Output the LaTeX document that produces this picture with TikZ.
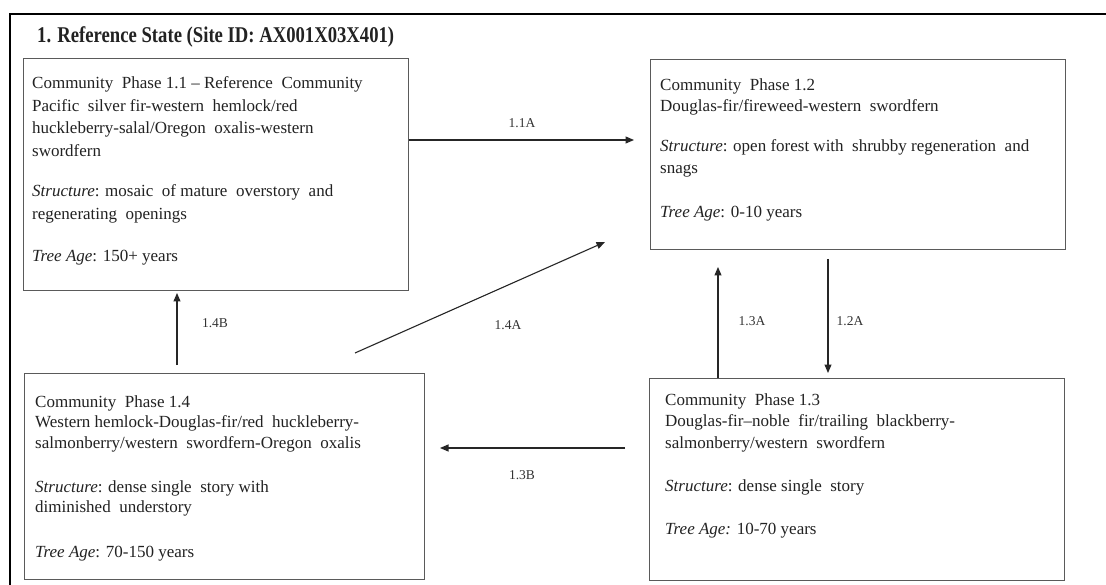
\documentclass[tikz,border=0pt]{standalone}
\usepackage{fontspec}
\setmainfont{Liberation Serif}
\usetikzlibrary{arrows.meta}
\definecolor{boxc}{HTML}{5A5A5A}
\definecolor{txt}{HTML}{222222}
\definecolor{lab}{HTML}{333333}
\tikzset{
  phasebox/.style={draw=boxc, line width=1.3pt, rectangle, anchor=north west, inner sep=0pt},
  body/.style={font=\fontsize{17}{21.5}\selectfont, align=left, inner sep=0pt, anchor=north west, text=txt},
  arr/.style={draw=black!85, line width=1.1pt, -{Triangle[length=8.5pt,width=7pt]}},
  lbl/.style={font=\fontsize{13.5}{15}\selectfont, text=lab, inner sep=0pt}
}
\begin{document}
\begin{tikzpicture}[x=1pt,y=-1pt]
\useasboundingbox (0,0) rectangle (1106,585);
\fill[white] (0,0) rectangle (1106,585);
% outer frame
\draw[line width=2.6pt, black] (1110,14) -- (10,14) -- (10,590);
% title
\node[anchor=base west, inner sep=0pt, font=\fontsize{22.5}{26}\selectfont\bfseries, text=txt] (title) at (37,43) {\scalebox{0.83}[1]{1. Reference State (Site ID: AX001X03X401)}};
% boxes
\node[phasebox, minimum width=385pt, minimum height=232pt] (p11) at (23,58) {};
\node[phasebox, minimum width=415pt, minimum height=190pt] (p12) at (650,59) {};
\node[phasebox, minimum width=400pt, minimum height=206pt] (p14) at (24,373) {};
\node[phasebox, minimum width=415pt, minimum height=202pt] (p13) at (649,378) {};
% texts
\node[body, font=\fontsize{17}{22.5}\selectfont] (t11) at (32,76.5) {Community\ \ Phase 1.1 – Reference\ \ Community\\
Pacific\ \ silver fir-western\ \ hemlock/red\\
huckleberry-salal/Oregon\ \ oxalis-western\\
swordfern\\[18pt]
\textit{Structure}: mosaic\ \ of mature\ \ overstory\ \ and\\
regenerating\ \ openings\\[20pt]
\textit{Tree Age}: 150+ years};
\node[body] (t12) at (660,78.5) {Community\ \ Phase 1.2\\
Douglas-fir/fireweed-western\ \ swordfern\\[18.5pt]
\textit{Structure}: open forest with\ \ shrubby regeneration\ \ and\\
snags\\[23pt]
\textit{Tree Age}: 0-10 years};
\node[body, font=\fontsize{17}{20.5}\selectfont] (t14) at (35,395.5) {Community\ \ Phase 1.4\\
Western hemlock-Douglas-fir/red\ \ huckleberry-\\
salmonberry/western\ \ swordfern-Oregon\ \ oxalis\\[23.5pt]
\textit{Structure}: dense single\ \ story with\\
diminished\ \ understory\\[24.5pt]
\textit{Tree Age}: 70-150 years};
\node[body] (t13) at (665,393.5) {Community\ \ Phase 1.3\\
Douglas-fir–noble\ \ fir/trailing\ \ blackberry-\\
salmonberry/western\ \ swordfern\\[21.5pt]
\textit{Structure}: dense single\ \ story\\[21.5pt]
\textit{Tree Age:} 10-70 years};
% connector end points
\coordinate (e11A) at (634,140);
\coordinate (s14A) at (355,353);
\coordinate (e14A) at (605,242);
\coordinate (s14B) at (177,365);
\coordinate (e14B) at (177,293);
\coordinate (e13A) at (718,267);
\coordinate (s12A) at (828,259);
\coordinate (e12A) at (828,373);
\coordinate (s13B) at (625,448);
\coordinate (e13B) at (440,448);
% connectors
\draw[arr] (p11.east |- e11A) -- (e11A);
\draw[arr] (s14A) -- (e14A);
\draw[arr] (s14B) -- (e14B);
\draw[arr] (e13A |- p13.north) -- (e13A);
\draw[arr] (s12A) -- (e12A);
\draw[arr] (s13B) -- (e13B);
% labels
\node[lbl] (l11A) at (522,123) {1.1A};
\node[lbl] (l14A) at (508,325) {1.4A};
\node[lbl] (l14B) at (215,323) {1.4B};
\node[lbl] (l13A) at (752,321) {1.3A};
\node[lbl] (l12A) at (850,321) {1.2A};
\node[lbl] (l13B) at (522,475) {1.3B};
\end{tikzpicture}
\end{document}
